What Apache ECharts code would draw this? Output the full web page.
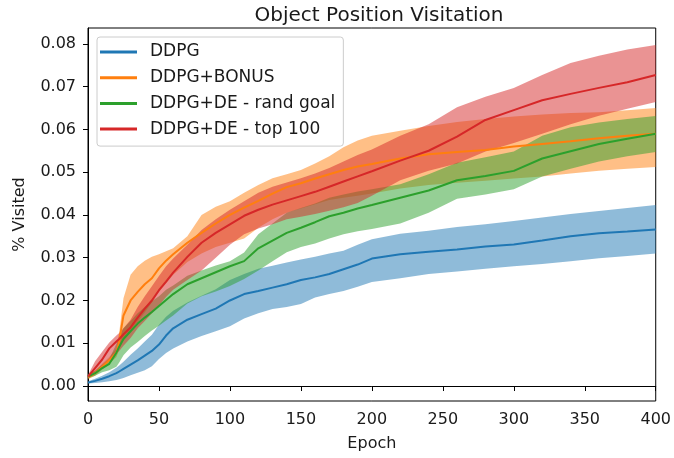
<!DOCTYPE html>
<html>
<head>
<meta charset="utf-8">
<title>Object Position Visitation</title>
<script src="https://cdn.jsdelivr.net/npm/echarts@6/dist/echarts.min.js"></script>
<style>
  html, body { margin: 0; padding: 0; background: #ffffff; }
  #chart { width: 674px; height: 458px; }
</style>
</head>
<body>
<div id="chart"></div>
<script>
// Training epochs at which the visitation curves are sampled
const epochs = [0, 5, 10, 15, 20, 22, 25, 30, 35, 40, 45, 50, 55, 60,
  70, 80, 90, 100, 110, 120, 130, 140, 150, 160, 170, 180, 190, 200,
  220, 240, 260, 280, 300, 320, 340, 360, 380, 400];

// DDPG
const ddpgMean = [0.0008, 0.0012, 0.0017, 0.0023, 0.0030, 0.0034, 0.0040, 0.0050, 0.0060, 0.0071, 0.0082, 0.0097, 0.0118, 0.0135,
  0.0155, 0.0168, 0.0181, 0.0200, 0.0215, 0.0222, 0.0230, 0.0238, 0.0248, 0.0254, 0.0262, 0.0273, 0.0284, 0.0298,
  0.0308, 0.0314, 0.0319, 0.0326, 0.0331, 0.0340, 0.0350, 0.0357, 0.0361, 0.0366];
const ddpgHigh = [0.0011, 0.0017, 0.0024, 0.0032, 0.0043, 0.0048, 0.0057, 0.0073, 0.0088, 0.0104, 0.0120, 0.0143, 0.0162, 0.0176,
  0.0195, 0.0211, 0.0226, 0.0248, 0.0262, 0.0274, 0.0281, 0.0289, 0.0296, 0.0302, 0.0310, 0.0316, 0.0330, 0.0343,
  0.0356, 0.0363, 0.0372, 0.0378, 0.0386, 0.0394, 0.0402, 0.0409, 0.0416, 0.0423];
const ddpgLow = [0.0006, 0.0007, 0.0009, 0.0011, 0.0014, 0.0016, 0.0019, 0.0025, 0.0031, 0.0037, 0.0046, 0.0063, 0.0077, 0.0088,
  0.0104, 0.0117, 0.0128, 0.0140, 0.0158, 0.0170, 0.0180, 0.0185, 0.0192, 0.0207, 0.0215, 0.0222, 0.0232, 0.0243,
  0.0252, 0.0262, 0.0268, 0.0274, 0.0280, 0.0285, 0.0292, 0.0299, 0.0304, 0.0310];

// DDPG+BONUS
const bonusMean = [0.0020, 0.0030, 0.0045, 0.0060, 0.0078, 0.0105, 0.0165, 0.0200, 0.0220, 0.0238, 0.0252, 0.0275, 0.0293, 0.0308,
  0.0335, 0.0358, 0.0380, 0.0400, 0.0417, 0.0433, 0.0450, 0.0465, 0.0474, 0.0485, 0.0495, 0.0505, 0.0513, 0.0519,
  0.0532, 0.0542, 0.0547, 0.0552, 0.0560, 0.0566, 0.0572, 0.0579, 0.0585, 0.0590];
const bonusHigh = [0.0024, 0.0036, 0.0052, 0.0068, 0.0088, 0.0125, 0.0205, 0.0260, 0.0280, 0.0293, 0.0302, 0.0308, 0.0315, 0.0322,
  0.0350, 0.0400, 0.0419, 0.0432, 0.0452, 0.0470, 0.0486, 0.0495, 0.0505, 0.0520, 0.0537, 0.0558, 0.0574, 0.0585,
  0.0597, 0.0608, 0.0617, 0.0624, 0.0630, 0.0635, 0.0638, 0.0640, 0.0645, 0.0650];
const bonusLow = [0.0016, 0.0024, 0.0038, 0.0052, 0.0068, 0.0085, 0.0110, 0.0130, 0.0150, 0.0172, 0.0195, 0.0220, 0.0240, 0.0260,
  0.0290, 0.0310, 0.0325, 0.0335, 0.0345, 0.0370, 0.0390, 0.0405, 0.0415, 0.0425, 0.0435, 0.0440, 0.0445, 0.0450,
  0.0462, 0.0470, 0.0475, 0.0480, 0.0485, 0.0490, 0.0497, 0.0503, 0.0508, 0.0512];

// DDPG+DE - rand goal
const randMean = [0.0022, 0.0030, 0.0042, 0.0052, 0.0078, 0.0092, 0.0110, 0.0128, 0.0146, 0.0160, 0.0173, 0.0187, 0.0201, 0.0215,
  0.0238, 0.0252, 0.0266, 0.0280, 0.0292, 0.0322, 0.0340, 0.0358, 0.0370, 0.0383, 0.0397, 0.0405, 0.0415, 0.0423,
  0.0440, 0.0457, 0.0481, 0.0491, 0.0503, 0.0532, 0.0549, 0.0566, 0.0578, 0.0590];
const randHigh = [0.0028, 0.0036, 0.0050, 0.0064, 0.0098, 0.0115, 0.0135, 0.0152, 0.0170, 0.0185, 0.0198, 0.0210, 0.0225, 0.0235,
  0.0258, 0.0270, 0.0282, 0.0292, 0.0312, 0.0355, 0.0380, 0.0405, 0.0416, 0.0427, 0.0440, 0.0448, 0.0455, 0.0460,
  0.0472, 0.0495, 0.0522, 0.0535, 0.0548, 0.0585, 0.0605, 0.0616, 0.0624, 0.0631];
const randLow = [0.0018, 0.0024, 0.0032, 0.0037, 0.0045, 0.0055, 0.0072, 0.0090, 0.0103, 0.0117, 0.0130, 0.0141, 0.0153, 0.0165,
  0.0193, 0.0210, 0.0221, 0.0234, 0.0250, 0.0270, 0.0292, 0.0313, 0.0325, 0.0333, 0.0345, 0.0355, 0.0362, 0.0367,
  0.0380, 0.0405, 0.0438, 0.0448, 0.0460, 0.0490, 0.0508, 0.0525, 0.0537, 0.0547];

// DDPG+DE - top 100
const topMean = [0.0022, 0.0042, 0.0062, 0.0088, 0.0104, 0.0110, 0.0121, 0.0137, 0.0160, 0.0181, 0.0200, 0.0224, 0.0244, 0.0265,
  0.0302, 0.0335, 0.0358, 0.0378, 0.0398, 0.0412, 0.0424, 0.0434, 0.0444, 0.0454, 0.0466, 0.0478, 0.0490, 0.0502,
  0.0527, 0.0550, 0.0583, 0.0622, 0.0645, 0.0668, 0.0683, 0.0697, 0.0710, 0.0727];
const topHigh = [0.0026, 0.0058, 0.0080, 0.0102, 0.0118, 0.0124, 0.0135, 0.0155, 0.0185, 0.0210, 0.0233, 0.0257, 0.0280, 0.0298,
  0.0330, 0.0365, 0.0390, 0.0412, 0.0432, 0.0452, 0.0466, 0.0476, 0.0486, 0.0497, 0.0510, 0.0525, 0.0540, 0.0553,
  0.0585, 0.0612, 0.0652, 0.0676, 0.0697, 0.0727, 0.0755, 0.0772, 0.0787, 0.0797];
const topLow = [0.0018, 0.0030, 0.0045, 0.0060, 0.0075, 0.0082, 0.0094, 0.0112, 0.0135, 0.0152, 0.0170, 0.0188, 0.0208, 0.0225,
  0.0248, 0.0270, 0.0300, 0.0330, 0.0355, 0.0368, 0.0378, 0.0390, 0.0396, 0.0402, 0.0410, 0.0418, 0.0428, 0.0445,
  0.0481, 0.0503, 0.0520, 0.0548, 0.0568, 0.0590, 0.0612, 0.0632, 0.0648, 0.0664];

const yTickValues = [0, 0.01, 0.02, 0.03, 0.04, 0.05, 0.06, 0.07, 0.08];

const runs = [
  { name: 'DDPG', color: '#1f77b4', mean: ddpgMean, low: ddpgLow, high: ddpgHigh },
  { name: 'DDPG+BONUS', color: '#ff7f0e', mean: bonusMean, low: bonusLow, high: bonusHigh },
  { name: 'DDPG+DE - rand goal', color: '#2ca02c', mean: randMean, low: randLow, high: randHigh },
  { name: 'DDPG+DE - top 100', color: '#d62728', mean: topMean, low: topLow, high: topHigh }
];

const FONT = 'DejaVu Sans';
const TEXT = '#1a1a1a';

const series = [];
// Shaded spread for each run: one polygon running along the upper bound and back along the lower bound
runs.forEach((r, i) => {
  const fill = echarts.color.modifyAlpha(r.color, 0.5);
  series.push({
    type: 'custom', id: 'spread-' + i,
    silent: true, z: 1,
    encode: { x: 0, y: [1, 2] },
    data: epochs.map((e, k) => [e, r.low[k], r.high[k]]),
    renderItem: (params, api) => {
      if (params.dataIndex !== 0) return null;
      const pts = [];
      for (let k = 0; k < epochs.length; k++) pts.push(api.coord([epochs[k], r.high[k]]));
      for (let k = epochs.length - 1; k >= 0; k--) pts.push(api.coord([epochs[k], r.low[k]]));
      return { type: 'polygon', shape: { points: pts }, style: { fill: fill } };
    }
  });
});
// Mean curves on top of all shaded regions
runs.forEach((r) => {
  series.push({
    type: 'line', name: r.name,
    data: epochs.map((e, k) => [e, r.mean[k]]),
    symbol: 'none', z: 2,
    itemStyle: { color: r.color },
    lineStyle: { color: r.color, width: 2 }
  });
});

const chart = echarts.init(document.getElementById('chart'), null, { renderer: 'canvas' });
chart.setOption({
  animation: false,
  backgroundColor: '#ffffff',
  title: {
    text: 'Object Position Visitation',
    left: 374, top: 1, textAlign: 'center',
    textStyle: { fontFamily: FONT, fontSize: 20, fontWeight: 'normal', color: TEXT }
  },
  legend: {
    orient: 'vertical',
    left: 97, top: 37,
    data: runs.map(r => r.name),
    icon: 'rect', itemWidth: 37, itemHeight: 3, itemGap: 5.7,
    padding: [5, 8, 7, 3],
    backgroundColor: 'rgba(255,255,255,0.8)',
    borderColor: '#cccccc', borderWidth: 1, borderRadius: 3,
    textStyle: { fontFamily: FONT, fontSize: 17, color: TEXT, lineHeight: 20, padding: [0, 0, 0, 8] }
  },
  grid: {
    left: 88, right: 14, top: 28, bottom: 57,
    show: true, borderColor: '#000000', borderWidth: 1, backgroundColor: 'transparent'
  },
  xAxis: {
    type: 'value', min: 0, max: 400, interval: 50,
    name: 'Epoch', nameLocation: 'middle', nameGap: 35,
    nameTextStyle: { fontFamily: FONT, fontSize: 16, color: TEXT },
    axisLine: { show: true, lineStyle: { color: '#000000', width: 1 } },
    axisTick: { show: true, inside: false, length: 5, lineStyle: { color: '#000000' } },
    axisLabel: { fontFamily: FONT, fontSize: 16, color: TEXT, margin: 11 },
    splitLine: { show: false }
  },
  yAxis: {
    type: 'value', min: -0.0035, max: 0.0837,
    name: '% Visited', nameLocation: 'middle', nameGap: 60,
    nameTextStyle: { fontFamily: FONT, fontSize: 16, color: TEXT },
    axisLine: { show: true, lineStyle: { color: '#000000', width: 1 } },
    axisTick: { show: true, inside: false, length: 5, customValues: yTickValues, lineStyle: { color: '#000000' } },
    axisLabel: {
      fontFamily: FONT, fontSize: 16, color: TEXT, margin: 12,
      customValues: yTickValues,
      formatter: v => Number(v).toFixed(2)
    },
    splitLine: { show: false }
  },
  series: series
});
</script>
</body>
</html>
